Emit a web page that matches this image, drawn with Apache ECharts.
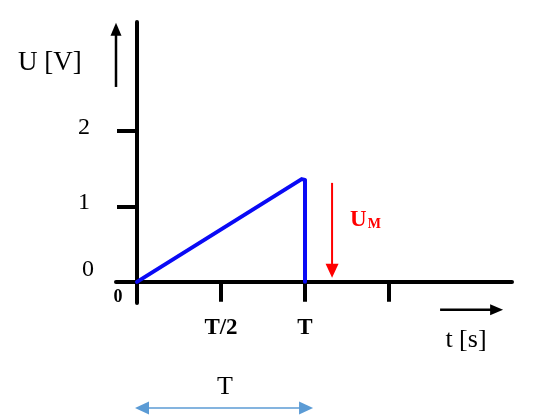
<!DOCTYPE html>
<html><head><meta charset="utf-8">
<script src="https://cdn.jsdelivr.net/npm/echarts@6/dist/echarts.min.js"></script>
<style>html,body{margin:0;padding:0;background:#fff}#c{width:540px;height:419px}</style>
</head><body><div id="c"></div>
<script>
// data
const timeData = [0, 0.98, 1.0, 1.0];
const voltage = [0, 1.36, 1.35, 0];
const xTickValues = [0, 0.5, 1, 1.5];
const xLabelValues = [0.5, 1];
const xLabelTexts = ['T/2', 'T'];
const yTickValues = [0, 1, 2];
const yLabelValues = [1, 2];
const xRange = [-0.125, 2.232];
const yRange = [-0.28, 3.44];
// annotation arrows [x1, y1, x2(tip), y2(tip)] in data units
const uArrow = [-0.125, 2.58, -0.125, 3.43];
const tArrow = [1.804, -0.37, 2.179, -0.37];
const umArrow = [1.161, 1.31, 1.161, 0.053];
const periodArrow = [-0.012, -1.67, 1.048, -1.67];
// annotation text anchors
const uLabelPos = [-0.518, 2.90];
const tLabelPos = [1.958, -0.77];
const periodLabelPos = [0.524, -1.40];
const umLabelPos = [1.268, 0.66];
const originLabelPos = [-0.113, -0.205];

const SERIF = '"Liberation Serif", "Times New Roman", serif';
const chart = echarts.init(document.getElementById('c'), null, {renderer: 'canvas'});

const axisLineStyle = {color: '#000', width: 4};
chart.setOption({
  animation: false,
  backgroundColor: '#fff',
  grid: {left: 116, right: 28, top: 22, bottom: 116, containLabel: false},
  xAxis: [{
    type: 'value', min: xRange[0], max: xRange[1],
    axisLine: {show: true, onZero: true, onZeroAxisIndex: 0, lineStyle: axisLineStyle},
    axisTick: {show: true, length: 20, inside: false, customValues: xTickValues, lineStyle: {color: '#000', width: 4}},
    axisLabel: {show: true, customValues: xLabelValues, margin: 14,
      formatter: v => xLabelTexts[xLabelValues.indexOf(v)] || '',
      fontFamily: SERIF, fontSize: 23, fontWeight: 'bold', color: '#000'},
    splitLine: {show: false}
  }],
  yAxis: [{
    type: 'value', min: yRange[0], max: yRange[1],
    axisLine: {show: true, onZero: true, onZeroAxisIndex: 0, lineStyle: axisLineStyle},
    axisTick: {show: true, length: 20, inside: false, customValues: yTickValues, lineStyle: {color: '#000', width: 4}},
    axisLabel: {show: true, customValues: yLabelValues, margin: 26, verticalAlign: 'bottom', lineHeight: 7,
      formatter: v => String(v), fontFamily: SERIF, fontSize: 24, color: '#000'},
    splitLine: {show: false}
  }, {
    type: 'value', min: yRange[0], max: yRange[1], position: 'left',
    axisLine: {show: false, onZero: true, onZeroAxisIndex: 0},
    axisTick: {show: false},
    axisLabel: {show: true, customValues: [0], margin: 22, verticalAlign: 'bottom',
      formatter: v => String(v), fontFamily: SERIF, fontSize: 24, color: '#000'},
    splitLine: {show: false}
  }],
  series: [{
    type: 'line',
    data: timeData.map((t, i) => [t, voltage[i]]),
    showSymbol: false, symbol: 'none',
    lineStyle: {color: '#0a0af5', width: 4, join: 'round', cap: 'round'},
    clip: false, silent: true
  }]
});

function px(p) { return chart.convertToPixel({gridIndex: 0}, p); }
function arrow(a, color, width, headLen, headW, both) {
  const p1 = px([a[0], a[1]]), p2 = px([a[2], a[3]]);
  const dx = p2[0] - p1[0], dy = p2[1] - p1[1];
  const L = Math.hypot(dx, dy), ux = dx / L, uy = dy / L, nx = -uy, ny = ux;
  const head = (tip, sx, sy) => ({
    type: 'polygon', silent: true,
    shape: {points: [tip,
      [tip[0] - sx * headLen + nx * headW / 2, tip[1] - sy * headLen + ny * headW / 2],
      [tip[0] - sx * headLen - nx * headW / 2, tip[1] - sy * headLen - ny * headW / 2]]},
    style: {fill: color}
  });
  const start = both ? [p1[0] + ux * headLen * 0.8, p1[1] + uy * headLen * 0.8] : p1;
  const end = [p2[0] - ux * headLen * 0.8, p2[1] - uy * headLen * 0.8];
  const els = [{type: 'line', silent: true, shape: {x1: start[0], y1: start[1], x2: end[0], y2: end[1]},
    style: {stroke: color, lineWidth: width}}, head(p2, ux, uy)];
  if (both) els.push(head(p1, -ux, -uy));
  return els;
}
function text(pos, str, opts) {
  const p = px(pos);
  return {type: 'text', silent: true, x: p[0], y: p[1],
    style: Object.assign({text: str, fontFamily: SERIF, fill: '#000', align: 'center', verticalAlign: 'middle'}, opts)};
}
const umP = px(umLabelPos);
const graphics = [].concat(
  arrow(uArrow, '#000', 2.5, 13, 11, false),
  arrow(tArrow, '#000', 2.5, 13, 11, false),
  arrow(umArrow, '#ff0000', 2, 14, 13, false),
  arrow(periodArrow, '#5b9bd5', 1.5, 14, 13, true),
  [
    text(uLabelPos, 'U [V]', {fontSize: 27}),
    text(tLabelPos, 't [s]', {fontSize: 26}),
    text(periodLabelPos, 'T', {fontSize: 26}),
    text(originLabelPos, '0', {fontSize: 18, fontWeight: 'bold'}),
    {type: 'text', silent: true, x: umP[0], y: umP[1],
      style: {text: '{u|U}{m|M}', fontFamily: SERIF, align: 'left', verticalAlign: 'bottom',
        rich: {u: {fontFamily: SERIF, fontSize: 23, fontWeight: 'bold', fill: '#ff0000', color: '#ff0000', verticalAlign: 'bottom'},
               m: {fontFamily: SERIF, fontSize: 14, fontWeight: 'bold', fill: '#ff0000', color: '#ff0000', verticalAlign: 'bottom', padding: [0, 0, 1, 1]}}}}
  ]
);
chart.setOption({graphic: graphics});
</script></body></html>
